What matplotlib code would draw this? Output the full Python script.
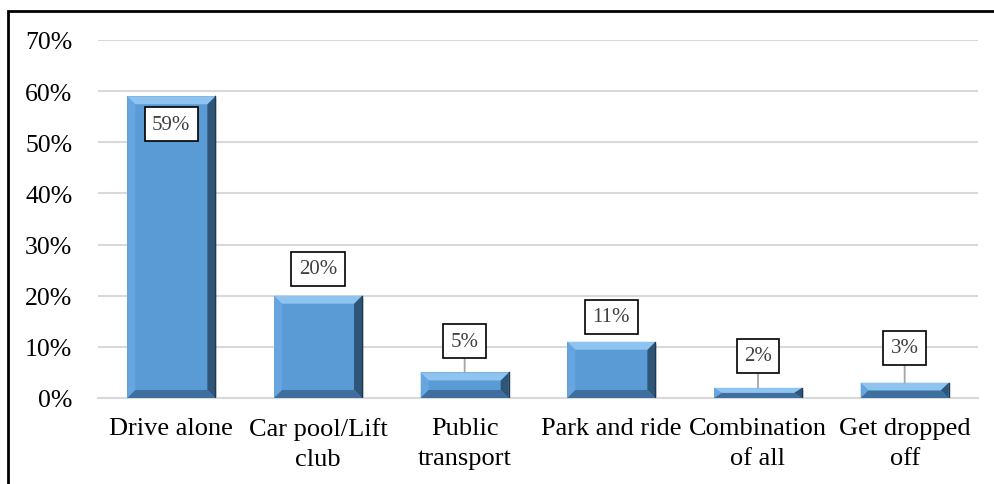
import matplotlib
matplotlib.use('Agg')
import matplotlib.pyplot as plt
from matplotlib.patches import Polygon, Rectangle
import numpy as np

categories = ['Drive alone', 'Car pool/Lift\nclub', 'Public\ntransport',
              'Park and ride', 'Combination\nof all', 'Get dropped\noff']
values = [59, 20, 5, 11, 2, 3]
value_labels = ['59%', '20%', '5%', '11%', '2%', '3%']
yticks = [0, 10, 20, 30, 40, 50, 60, 70]

plt.rcParams['font.family'] = ['Liberation Serif', 'DejaVu Serif']

W, H = 995, 485
fig = plt.figure(figsize=(W / 100, H / 100), dpi=100)
ax_left, ax_right, ax_top, ax_bottom = 98, 978, 41, 399
ax = fig.add_axes([ax_left / W, (H - ax_bottom) / H,
                   (ax_right - ax_left) / W, (ax_bottom - ax_top) / H])

x = np.arange(len(categories))
bar_w = 0.6
face = '#5B9BD5'
ax.set_xlim(-0.5, len(categories) - 0.5)
ax.set_ylim(0, 70)

# shadow
for xi, v in zip(x, values):
    ax.add_patch(Rectangle((xi - bar_w / 2 + 0.012, -0.4), bar_w, v, color='#000000',
                           alpha=0.12, lw=0, zorder=2))

bars = ax.bar(x, values, width=bar_w, color=face, zorder=3, linewidth=0)

# bevel effect
px_x = (len(categories)) / (ax_right - ax_left)
px_y = 70 / (ax_bottom - ax_top)
b = 8
for rect in bars:
    x0 = rect.get_x()
    x1 = x0 + rect.get_width()
    y0 = 0
    y1 = rect.get_height()
    bx = b * px_x
    by = min(b * px_y, y1 / 2)
    top = [(x0, y1), (x1, y1), (x1 - bx, y1 - by), (x0 + bx, y1 - by)]
    bottom = [(x0, y0), (x1, y0), (x1 - bx, y0 + by), (x0 + bx, y0 + by)]
    left = [(x0, y0), (x0, y1), (x0 + bx, y1 - by), (x0 + bx, y0 + by)]
    right = [(x1, y0), (x1, y1), (x1 - bx, y1 - by), (x1 - bx, y0 + by)]
    for poly, col in [(left, '#66A5DF'), (right, '#2F5577'),
                      (bottom, '#3F6F9E'), (top, '#8FC3F0')]:
        ax.add_patch(Polygon(poly, closed=True, color=col, lw=0, zorder=4))
    ax.plot([x1, x1], [y0, y1], color='#1F3A55', lw=1, zorder=5)

# data labels
offsets = [-28, 27, 31, 25, 32, 35]
leaders = [False, False, True, False, True, True]
for xi, v, lab, off, lead in zip(x, values, value_labels, offsets, leaders):
    kw = {}
    if lead:
        kw['arrowprops'] = dict(arrowstyle='-', color='#A6A6A6', lw=1.3,
                                shrinkA=0, shrinkB=0)
    ax.annotate(lab, xy=(xi, v), xytext=(0, off), textcoords='offset pixels',
                ha='center', va='center', fontsize=15, color='#404040',
                bbox=dict(boxstyle='square,pad=0.36', fc='white', ec='black', lw=1.2),
                zorder=6, **kw)

ax.set_yticks(yticks)
ax.set_yticklabels([f'{t}%' for t in yticks])
ax.set_xticks(x)
ax.set_xticklabels(categories, linespacing=1.42)
ax.tick_params(axis='both', length=0, colors='black')
ax.tick_params(axis='y', pad=18.5, labelsize=18.5)
ax.tick_params(axis='x', pad=14, labelsize=19)
ax.grid(axis='y', color='#D9D9D9', lw=1.5, zorder=0)
ax.set_axisbelow(True)
for s in ['top', 'right', 'left']:
    ax.spines[s].set_visible(False)
ax.spines['bottom'].set_color('#D9D9D9')
ax.spines['bottom'].set_linewidth(1.5)

fig.add_artist(Rectangle((8 / W, -0.1), 1.2, (H - 12) / H + 0.1,
                         transform=fig.transFigure, fill=False, ec='black', lw=2))

fig.savefig('out.png', dpi=100)
